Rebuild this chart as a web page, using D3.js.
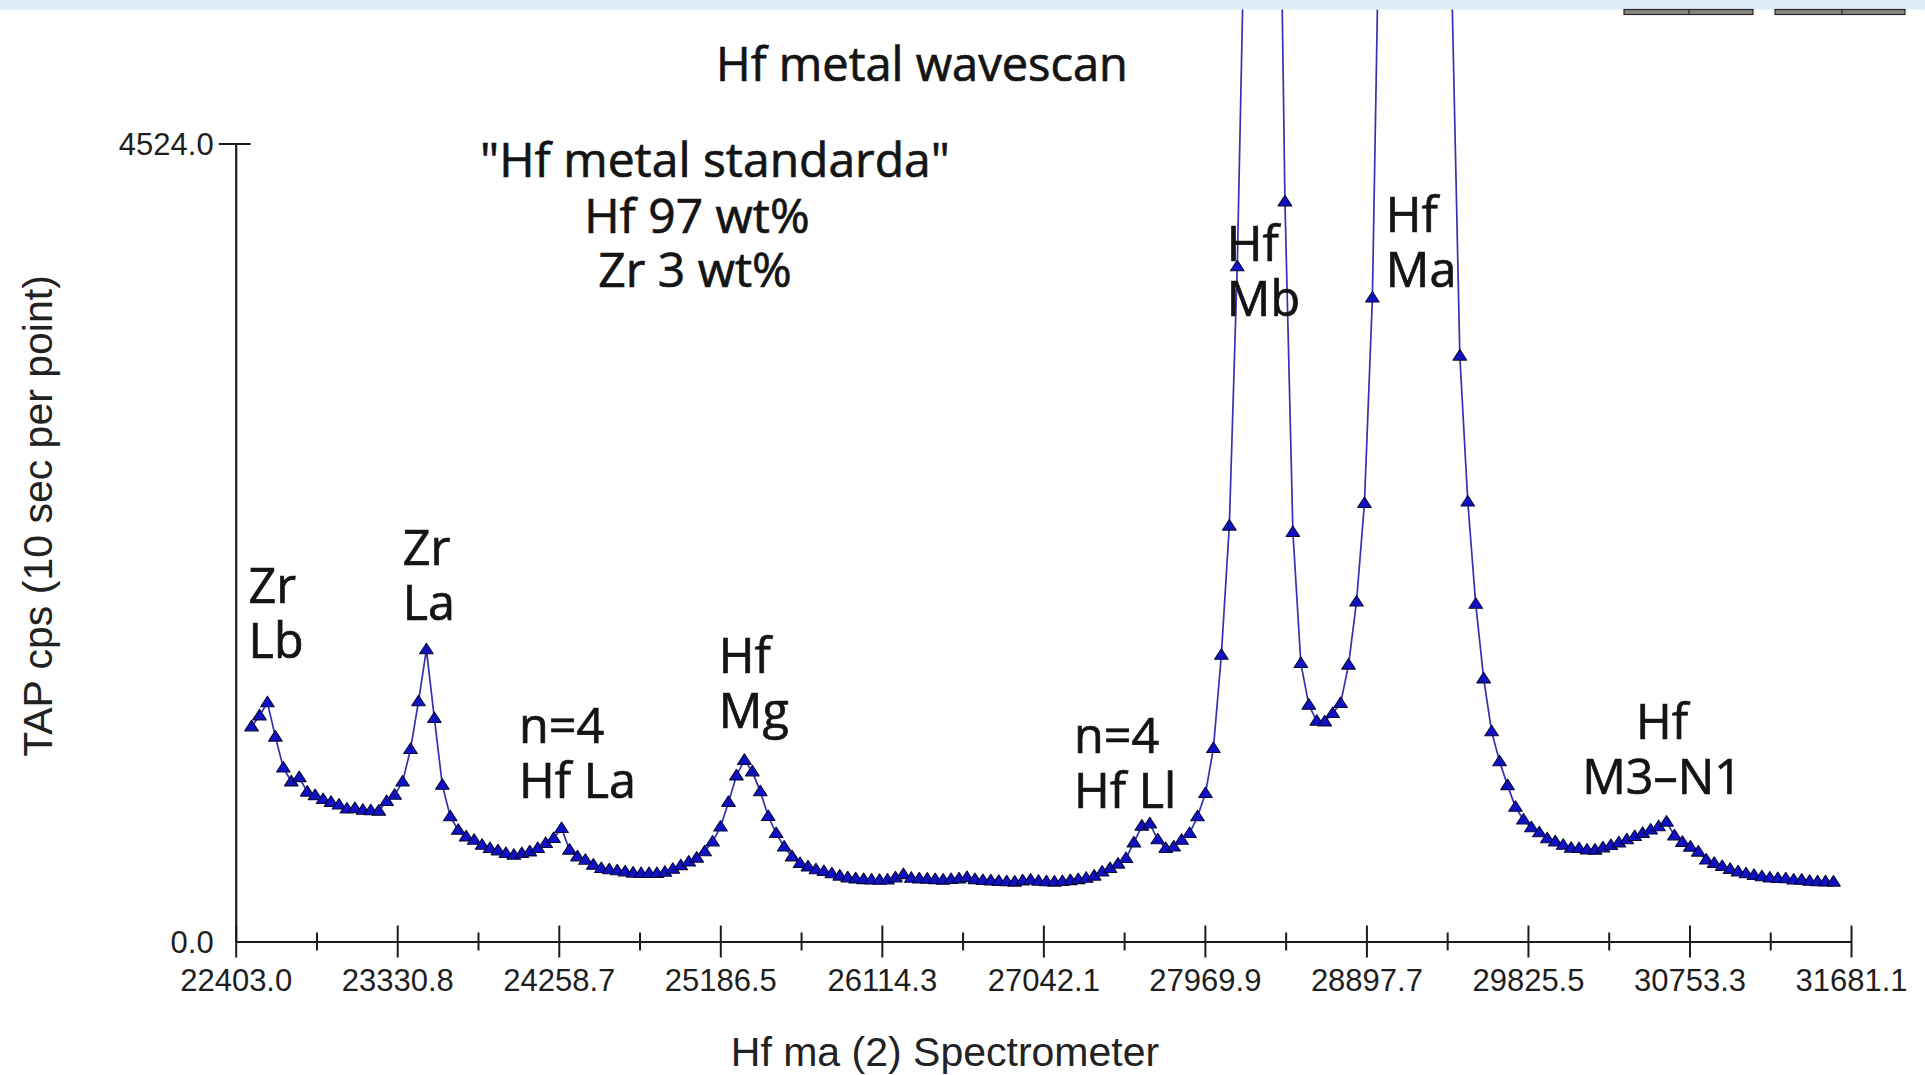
<!DOCTYPE html>
<html>
<head>
<meta charset="utf-8">
<title>Hf metal wavescan</title>
<script src="https://cdn.jsdelivr.net/npm/d3@7"></script>
<style>
  html, body { margin: 0; padding: 0; background: #ffffff; }
  svg { display: block; }
</style>
</head>
<body>
<svg id="chart" width="1925" height="1075"></svg>
<script>
// Wavescan: TAP spectrometer, 10 s per point
const scanStart = 22494.0;   // first spectrometer position
const scanStep = 45.66;      // spectrometer step between points

// TAP counts per second at each scan point
const counts = [
  1218, 1280, 1355, 1160, 985, 906, 930, 848, 828, 806,
  790, 775, 752, 755, 745, 742, 740, 795, 830, 905,
  1090, 1360, 1655, 1265, 887, 708, 632, 594, 575, 547,
  528, 515, 500, 490, 500, 509, 528, 557, 585, 642,
  519, 481, 462, 434, 415, 408, 402, 396, 389, 387,
  387, 387, 394, 411, 431, 452, 474, 510, 565, 650,
  790, 940, 1028, 963, 850, 710, 613, 537, 481, 443,
  424, 408, 398, 385, 372, 362, 356, 352, 350, 348,
  350, 362, 380, 360, 356, 355, 352, 349, 353, 356,
  364, 352, 347, 345, 342, 340, 338, 345, 350, 343,
  340, 338, 341, 346, 352, 360, 372, 395, 415, 440,
  472, 560, 655, 668, 578, 528, 537, 575, 613, 708,
  840, 1095, 1624, 2356, 3826, 6000, 9800, 12400, 11500, 7400,
  4194, 2320, 1577, 1341, 1250, 1246, 1294, 1350, 1568, 1926,
  2484, 3649, 6250, 10500, 15800, 20500, 23000, 22000, 18500, 13500,
  8900, 5400, 3320, 2493, 1913, 1490, 1190, 1020, 885, 762,
  690, 646, 618, 584, 566, 547, 530, 528, 520, 519,
  532, 545, 560, 578, 596, 614, 633, 652, 678, 600,
  563, 536, 508, 463, 444, 426, 410, 396, 385, 376,
  368, 361, 358, 357, 350, 349, 343, 340, 339, 338
];

// Axis labels
const xTickLabels = ["22403.0", "23330.8", "24258.7", "25186.5", "26114.3", "27042.1",
                     "27969.9", "28897.7", "29825.5", "30753.3", "31681.1"];
const yTickLabels = ["0.0", "4524.0"];

const titleText = "Hf metal wavescan";
const xTitle = "Hf ma (2) Spectrometer";
const yTitle = "TAP cps (10 sec per point)";

// Sample description (anchored in data units: position, cps)
const sampleLines = ["\"Hf metal standarda\"", "Hf 97 wt%", "Zr 3 wt%"];
const samplePos = [[25156, 4334], [25052, 4017], [25041, 3710]];

// Line identifications, anchored in data units at the first line's baseline
const peakNames = [["Zr", "Lb"], ["Zr", "La"], ["n=4", "Hf La"], ["Hf", "Mg"],
                   ["n=4", "Hf Ll"], ["Hf", "Mb"], ["Hf", "Ma"], ["Hf", "M3\u2013N1"]];
const peakPos = [[22477, 1919], [23362, 2135], [24030, 1125], [25178, 1522],
                 [27218, 1071], [28096, 3859], [29009, 4022], [30596, 1148]];
const peakAnchor = ["start", "start", "start", "start", "start", "start", "start", "middle"];

// ---------------------------------------------------------------------------
const W = 1925, H = 1075;
const svg = d3.select("#chart");

const xDomain = [+xTickLabels[0], +xTickLabels[xTickLabels.length - 1]];
const yDomain = [+yTickLabels[0], +yTickLabels[1]];

const x = d3.scaleLinear().domain(xDomain).range([235.7, 1851]);
const y = d3.scaleLinear().domain(yDomain).range([941.5, 143.5]);

const points = counts.map((c, i) => ({ pos: scanStart + i * scanStep, cps: c }));

const axisColor = "#1c1c1c";
const axisFont = "'Liberation Sans', Arial, sans-serif";
const noteFont = "'Open Sans', 'DejaVu Sans', sans-serif";
const noteColor = "#141414";

// ---- spectrum line ----
const line = d3.line().x(d => x(d.pos)).y(d => y(d.cps));
svg.append("path")
  .datum(points)
  .attr("d", line)
  .attr("fill", "none")
  .attr("stroke", "#3232b2")
  .attr("stroke-width", 1.7)
  .attr("stroke-linejoin", "round");

// ---- triangle markers (only inside the plotted range) ----
const tri = "M0,-6.3L6.8,4.2L-6.8,4.2Z";
svg.append("g")
  .selectAll("path")
  .data(points.filter(d => d.cps <= yDomain[1]))
  .join("path")
  .attr("d", tri)
  .attr("transform", d => `translate(${x(d.pos)},${y(d.cps)})`)
  .attr("fill", "#1010c4")
  .attr("stroke", "#08083a")
  .attr("stroke-width", 1.1)
  .attr("stroke-linejoin", "round");

// ---- x axis ----
const majorVals = xTickLabels.map(Number);
const minorVals = d3.pairs(majorVals).map(([a, b]) => (a + b) / 2);

const gx = svg.append("g").attr("transform", `translate(0,${y(0)})`);
gx.call(d3.axisBottom(x).tickValues(majorVals).tickFormat((d, i) => xTickLabels[i])
  .tickSize(16).tickSizeOuter(0).tickPadding(12));
gx.select(".domain").attr("stroke", axisColor).attr("stroke-width", 2.2);
gx.selectAll(".tick line").attr("y1", -16).attr("y2", 16)
  .attr("stroke", axisColor).attr("stroke-width", 2);
gx.selectAll(".tick text").attr("y", 27).attr("dy", "0.71em")
  .attr("font-family", axisFont).attr("font-size", 31).attr("fill", "#1e1e1e");

const gxm = svg.append("g").attr("transform", `translate(0,${y(0)})`);
gxm.call(d3.axisBottom(x).tickValues(minorVals).tickFormat("").tickSize(9).tickSizeOuter(0));
gxm.select(".domain").remove();
gxm.selectAll(".tick line").attr("y1", -9).attr("y2", 9)
  .attr("stroke", axisColor).attr("stroke-width", 2);

// ---- y axis ----
const gy = svg.append("g").attr("transform", `translate(${x(xDomain[0])},0)`);
gy.call(d3.axisLeft(y).tickValues(yDomain).tickFormat((d, i) => yTickLabels[i])
  .tickSize(17).tickSizeOuter(0).tickPadding(5));
gy.select(".domain").attr("stroke", axisColor).attr("stroke-width", 2.2);
gy.selectAll(".tick line")
  .attr("x2", d => d === yDomain[1] ? -17 : 0)
  .attr("x1", d => d === yDomain[1] ? 15 : 0)
  .attr("stroke", axisColor).attr("stroke-width", 2);
gy.selectAll(".tick text")
  .attr("x", -22)
  .attr("dy", "0.36em")
  .attr("font-family", axisFont).attr("font-size", 31).attr("fill", "#1e1e1e");

// ---- axis titles ----
svg.append("text")
  .attr("x", 945).attr("y", 1066)
  .attr("text-anchor", "middle")
  .attr("font-family", axisFont).attr("font-size", 41).attr("fill", "#222")
  .text(xTitle);

svg.append("text")
  .attr("transform", "translate(52,516) rotate(-90)")
  .attr("text-anchor", "middle")
  .attr("font-family", axisFont).attr("font-size", 41).attr("fill", "#222")
  .text(yTitle);

// shared look of the annotation texts
function noteStyle(sel, size) {
  sel.attr("font-family", noteFont)
    .attr("font-size", size)
    .attr("fill", noteColor)
    .attr("stroke", noteColor)
    .attr("stroke-width", 0.7)
    .attr("paint-order", "stroke");
}

// ---- title ----
svg.append("text")
  .attr("x", 922).attr("y", 81)
  .attr("text-anchor", "middle")
  .call(noteStyle, 47)
  .text(titleText);

// ---- sample description ----
svg.append("g").selectAll("text")
  .data(sampleLines)
  .join("text")
  .attr("x", (d, i) => x(samplePos[i][0]))
  .attr("y", (d, i) => y(samplePos[i][1]))
  .attr("text-anchor", "middle")
  .call(noteStyle, 48)
  .text(d => d);

// ---- peak identifications ----
const lineGap = 55;
const pk = svg.append("g").selectAll("text")
  .data(peakNames)
  .join("text")
  .attr("text-anchor", (d, i) => peakAnchor[i])
  .call(noteStyle, 48.5);
pk.each(function (lines, i) {
  const t = d3.select(this);
  lines.forEach((s, k) => {
    t.append("tspan")
      .attr("x", x(peakPos[i][0]))
      .attr("y", y(peakPos[i][1]) + k * lineGap)
      .text(s);
  });
});

// ---- window strip along the top ----
svg.append("rect").attr("x", 0).attr("y", 0).attr("width", W).attr("height", 9.5)
  .attr("fill", "#deedf7");
[[1624, 1689, 1753], [1775, 1842, 1905]].forEach(([a, m, b]) => {
  svg.append("rect").attr("x", a).attr("y", 9.5).attr("width", b - a).attr("height", 5)
    .attr("fill", "#85857d").attr("stroke", "#2a2a2a").attr("stroke-width", 1.2);
  svg.append("line").attr("x1", m).attr("x2", m).attr("y1", 9.5).attr("y2", 14.5)
    .attr("stroke", "#2a2a2a").attr("stroke-width", 1.2);
});
</script>
</body>
</html>
